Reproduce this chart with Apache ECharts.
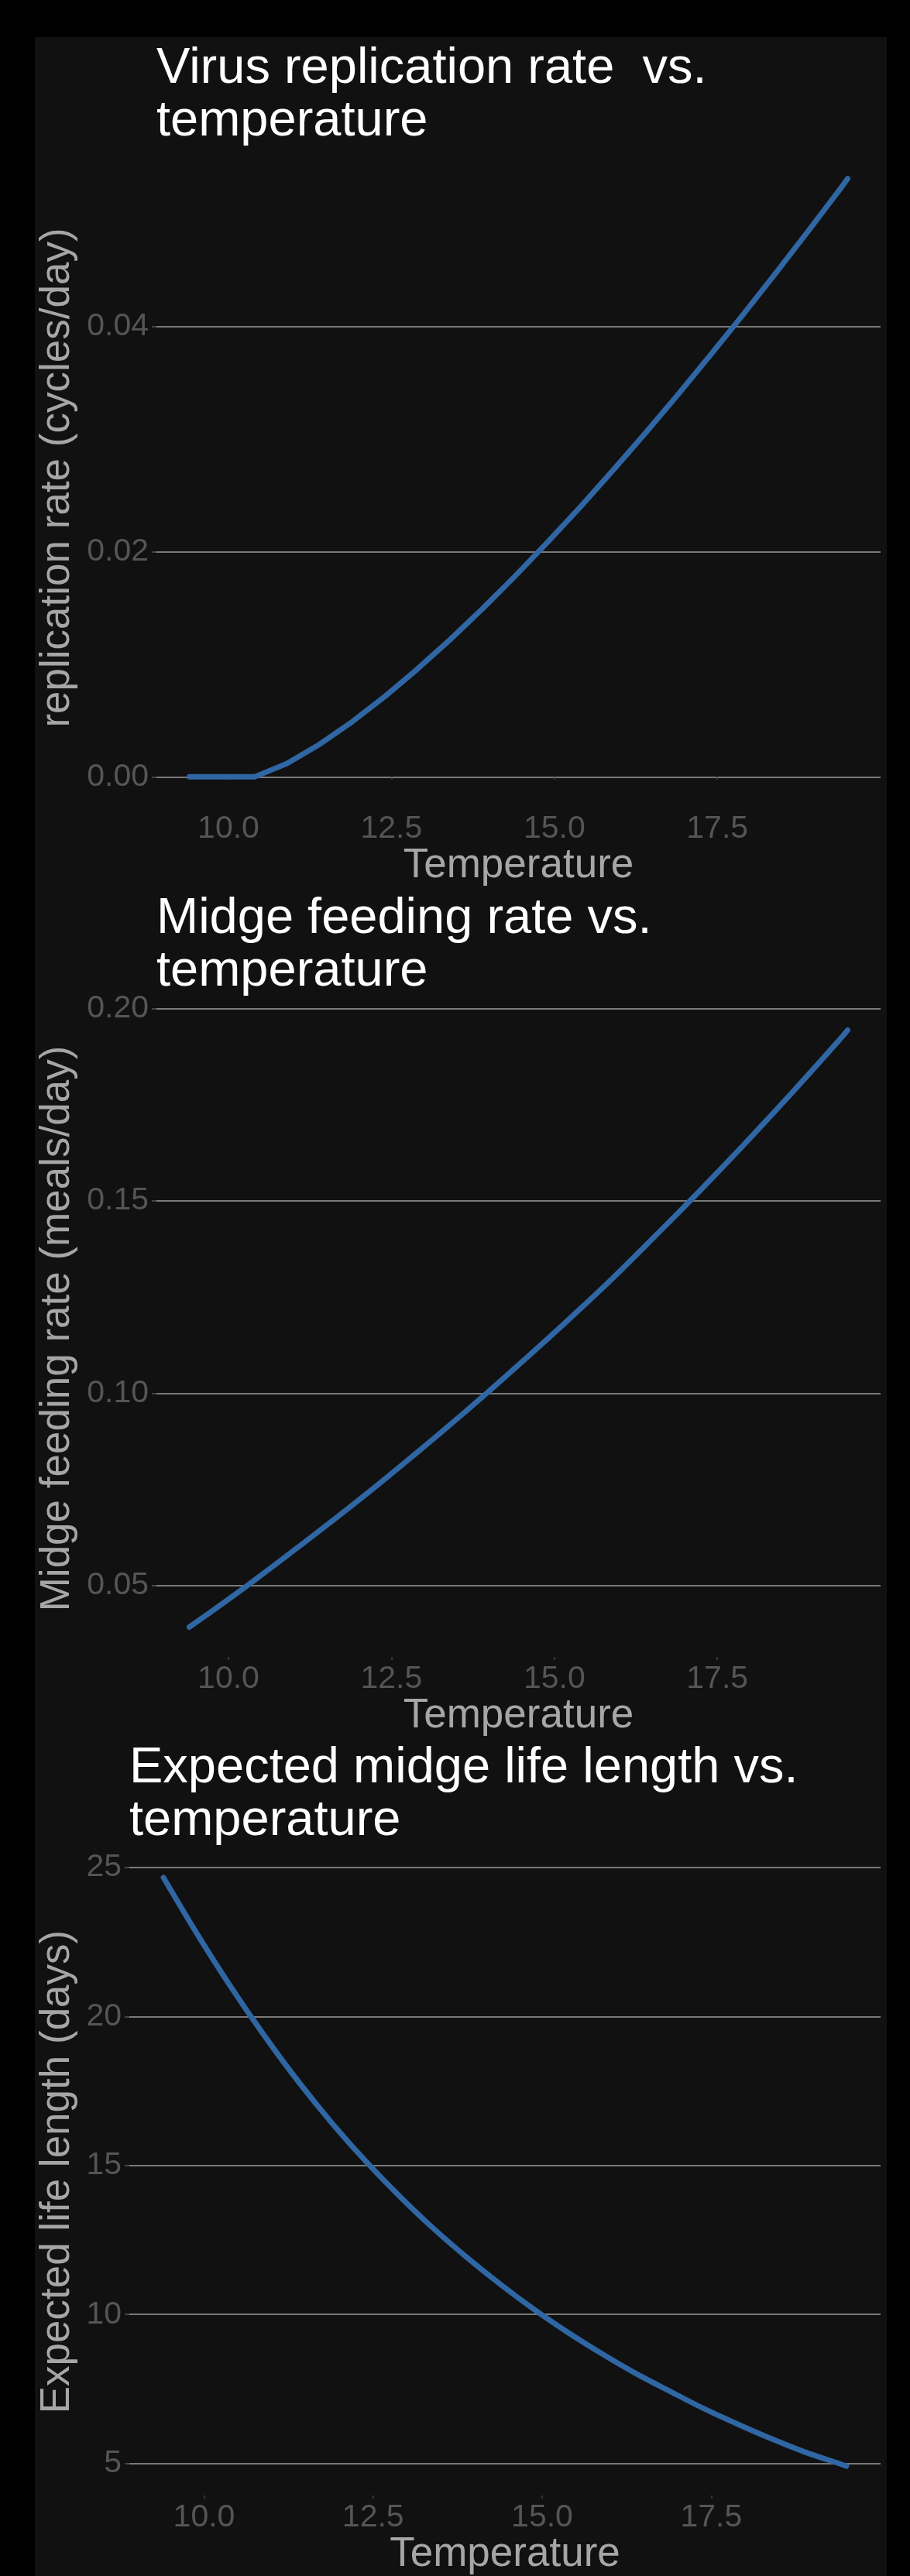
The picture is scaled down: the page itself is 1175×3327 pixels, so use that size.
<!DOCTYPE html>
<html><head><meta charset="utf-8">
<script src="https://cdn.jsdelivr.net/npm/echarts@6/dist/echarts.min.js"></script>
<style>
html,body{margin:0;padding:0;background:#000;}
#panel{position:absolute;left:45px;top:48px;width:1100px;height:3279px;background:#111;}
#chart{position:absolute;left:0;top:0;width:1175px;height:3327px;}
</style></head><body>
<div id="panel"></div><div id="chart"></div>
<script>
const temperature = [9.4, 9.9, 10.4, 10.9, 11.4, 11.9, 12.4, 12.9, 13.4, 13.9, 14.4, 14.9, 15.4, 15.9, 16.4, 16.9, 17.4, 17.9, 18.4, 18.9, 19.4, 19.5];
const replicationRate = [0, 0, 0, 0.00120, 0.00290, 0.00490, 0.00714, 0.00958, 0.01218, 0.01494, 0.01783, 0.02085, 0.02397, 0.02721, 0.03054, 0.03396, 0.03747, 0.04106, 0.04473, 0.04848, 0.05230, 0.05310];
const feedingRate = [0.0392, 0.0452, 0.0514, 0.0578, 0.0643, 0.0709, 0.0777, 0.0847, 0.0918, 0.0991, 0.1066, 0.1142, 0.1220, 0.1300, 0.1384, 0.1469, 0.1556, 0.1645, 0.1736, 0.1829, 0.1924, 0.1944];
const lifeLength = [24.66, 22.76, 20.98, 19.33, 17.80, 16.40, 15.12, 13.95, 12.87, 11.89, 10.98, 10.14, 9.37, 8.66, 8.00, 7.41, 6.83, 6.31, 5.82, 5.37, 4.99, 4.91];

const xTicks = [10, 12.5, 15, 17.5];
const replicationTicks = [0, 0.02, 0.04];
const feedingTicks = [0.05, 0.10, 0.15, 0.20];
const lifeTicks = [5, 10, 15, 20, 25];

const titles = ['Virus replication rate  vs.\ntemperature', 'Midge feeding rate vs.\ntemperature', 'Expected midge life length vs.\ntemperature'];
const yNames = ['replication rate (cycles/day)', 'Midge feeding rate (meals/day)', 'Expected life length (days)'];
const xName = 'Temperature';

const FONT = '"Liberation Sans", Arial, Helvetica, sans-serif';
const LINE_COLOR = '#2f66a3';

const grids = [
  {left: 202, top: 192, width: 935, height: 850},
  {left: 202, top: 1292, width: 935, height: 848},
  {left: 167, top: 2387, width: 970, height: 850}
];
const titleTops = [55, 1153, 2250];
const yRanges = [[-0.002655, 0.055755], [0.03144, 0.20216], [3.9225, 25.6475]];
const yTickSets = [replicationTicks, feedingTicks, lifeTicks];
const yFormat = [v => v.toFixed(2), v => v.toFixed(2), v => String(Math.round(v))];
const yGaps = [93, 93, 58];
const seriesData = [replicationRate, feedingRate, lifeLength];

const chart = echarts.init(document.getElementById('chart'), null, {renderer: 'canvas'});

const option = {
  animation: false,
  backgroundColor: 'transparent',
  title: titles.map((t, i) => ({
    text: t,
    left: grids[i].left,
    top: titleTops[i],
    padding: 0,
    textStyle: {fontSize: 65, lineHeight: 68, color: '#ffffff', fontWeight: 'normal', fontFamily: FONT}
  })),
  grid: grids.map(g => Object.assign({containLabel: false}, g)),
  xAxis: grids.map((g, i) => ({
    type: 'value', gridIndex: i, min: 8.895, max: 20.005,
    name: xName, nameLocation: 'middle', nameGap: 44,
    nameTextStyle: {fontSize: 53, color: '#a6a6a6', fontFamily: FONT},
    axisLine: {show: false},
    splitLine: {show: false},
    axisTick: {show: true, customValues: xTicks, length: 4, lineStyle: {color: '#444', width: 1.5}},
    axisLabel: {customValues: xTicks, formatter: v => v.toFixed(1), margin: 8, fontSize: 41, color: '#555', fontFamily: FONT}
  })),
  yAxis: grids.map((g, i) => ({
    type: 'value', gridIndex: i, min: yRanges[i][0], max: yRanges[i][1],
    name: yNames[i], nameLocation: 'middle', nameGap: yGaps[i],
    nameTextStyle: {fontSize: 53, color: '#a6a6a6', fontFamily: FONT},
    axisLine: {show: false},
    axisTick: {show: true, customValues: yTickSets[i], length: 6, lineStyle: {color: '#555', width: 1.5}},
    axisLabel: {customValues: yTickSets[i], formatter: yFormat[i], margin: 10, fontSize: 41, color: '#555', fontFamily: FONT},
    splitLine: {show: true, lineStyle: {color: '#7a7a7a', width: 1.8}}
  })),
  series: seriesData.map((arr, i) => ({
    type: 'line', xAxisIndex: i, yAxisIndex: i,
    data: temperature.map((t, k) => [t, arr[k]]),
    showSymbol: false, smooth: i === 0 ? false : 0.3,
    lineStyle: {color: LINE_COLOR, width: 7, cap: 'round', join: 'round'},
    itemStyle: {color: LINE_COLOR},
    silent: true
  }))
};
chart.setOption(option);
</script>
</body></html>
